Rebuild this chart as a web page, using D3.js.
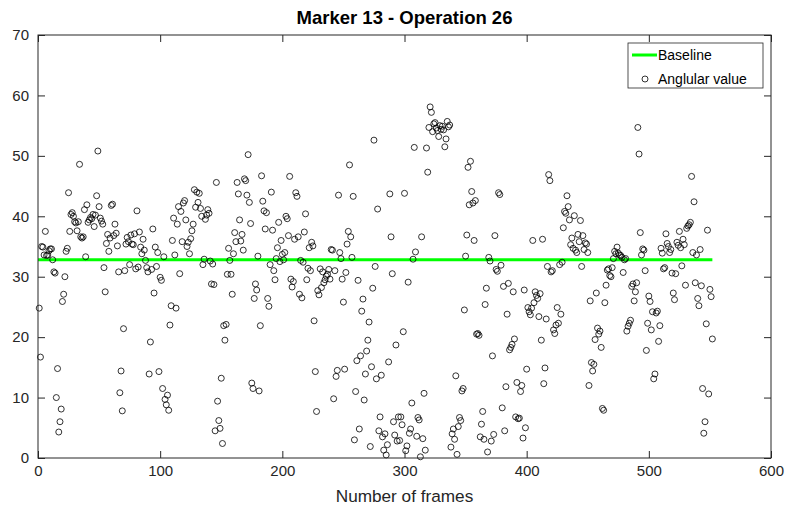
<!DOCTYPE html>
<html>
<head>
<meta charset="utf-8">
<script src="https://cdn.jsdelivr.net/npm/d3@7"></script>
<style>
  body { margin: 0; background: #fff; }
  svg { display: block; font-family: Arial, "Liberation Sans", Helvetica, sans-serif; }
</style>
</head>
<body>
<svg id="chart" width="789" height="512"></svg>
<script>
// Labels and ticks
const titleText = "Marker 13 - Operation 26";
const xLabelText = "Number of frames";
const xTickValues = [0, 100, 200, 300, 400, 500, 600];
const yTickValues = [0, 10, 20, 30, 40, 50, 60, 70];
const legendLabels = ["Baseline", "Anglular value"];

// Reference angle drawn as the green line
const baselineValue = 32.8;

// Angular value per frame (frames 1..552), in blocks of 100 frames
const anglesBlock1 = [
  24.8, 16.7, 35.0, 34.9, 33.6, 37.5, 33.5, 33.6, 34.3, 34.6,
  34.6, 32.8, 30.8, 30.6, 10.0, 14.8, 4.3, 6.0, 8.1, 25.9,
  27.1, 30.0, 34.2, 34.7, 43.9, 37.5, 40.3, 40.6, 40.0, 39.1,
  38.9, 37.6, 39.1, 48.6, 36.6, 36.4, 36.6, 41.1, 33.3, 41.9,
  39.0, 39.4, 39.8, 39.6, 40.3, 38.3, 40.2, 43.4, 50.8, 41.6,
  39.7, 39.2, 38.7, 31.5, 27.5, 35.5, 37.0, 34.2, 36.4, 41.8,
  42.0, 36.8, 38.7, 37.2, 35.1, 30.8, 10.8, 14.4, 7.8, 21.4,
  31.0, 35.4, 36.5, 35.8, 32.0, 36.9, 35.4, 35.3, 37.1, 31.3,
  40.9, 31.6, 37.4, 34.9, 33.8, 36.2, 34.4, 32.7, 31.5, 30.8,
  13.9, 19.2, 31.2, 37.9, 27.3, 34.9, 31.7, 34.0, 14.3, 29.9
];
const anglesBlock2 = [
  29.4, 11.5, 33.3, 9.7, 8.8, 10.4, 7.9, 22.0, 25.2, 36.0,
  39.7, 33.6, 24.8, 38.7, 41.6, 30.5, 40.8, 35.8, 42.2, 42.6,
  39.4, 35.0, 35.7, 33.8, 36.3, 37.6, 38.7, 44.4, 41.5, 44.0,
  42.3, 43.8, 41.3, 40.0, 32.0, 32.9, 39.5, 40.2, 41.1, 40.5,
  32.6, 28.8, 32.1, 28.7, 4.5, 45.6, 9.4, 6.2, 4.9, 13.2,
  2.4, 21.9, 19.5, 22.1, 30.4, 34.7, 32.7, 30.4, 27.1, 33.8,
  37.3, 35.8, 45.6, 43.7, 39.4, 35.9, 37.0, 34.4, 46.2, 45.9,
  43.5, 50.2, 42.3, 38.8, 12.4, 11.5, 26.4, 28.8, 27.8, 33.4,
  11.1, 21.9, 46.7, 42.5, 40.9, 37.9, 40.6, 26.4, 25.1, 32.0,
  44.0, 37.7, 31.0, 29.5, 33.0, 34.8, 39.0, 32.5, 36.0, 33.7
];
const anglesBlock3 = [
  32.8, 34.0, 40.0, 39.6, 36.8, 46.6, 29.6, 28.3, 29.2, 36.2,
  43.9, 43.3, 36.6, 27.1, 32.7, 26.5, 32.4, 37.4, 40.4, 29.5,
  31.4, 34.8, 31.0, 35.7, 35.1, 22.7, 14.3, 7.7, 27.7, 27.0,
  31.3, 28.2, 30.8, 29.0, 29.5, 30.1, 30.4, 31.2, 29.6, 34.5,
  34.4, 9.8, 31.0, 13.5, 14.5, 43.5, 34.0, 33.0, 29.6, 25.8,
  14.7, 30.7, 35.4, 37.5, 48.5, 36.6, 33.2, 43.3, 3.0, 11.0,
  16.1, 29.4, 4.8, 16.9, 24.3, 26.3, 9.6, 13.9, 17.7, 19.5,
  22.5, 1.9, 15.1, 28.1, 52.6, 31.7, 13.1, 41.2, 4.5, 6.8,
  13.7, 3.5, 1.3, 4.0, 0.5, 2.2, 15.9, 43.7, 36.6, 30.5,
  6.0, 3.8, 18.7, 2.8, 6.8, 2.9, 6.8, 5.5, 20.9, 43.8
];
const anglesBlock4 = [
  1.2, 2.0, 29.1, 4.1, 4.8, 9.1, 32.9, 51.4, 34.1, 3.6,
  6.7, 6.3, 0.2, 36.6, 3.2, 10.7, 1.3, 51.3, 47.3, 54.7,
  58.1, 57.2, 54.0, 55.3, 55.5, 54.6, 54.2, 53.2, 55.0, 54.4,
  54.9, 54.3, 51.5, 52.8, 55.7, 54.8, 55.1, 1.8, 4.0, 4.8,
  3.1, 13.6, 0.6, 5.2, 6.7, 6.2, 11.1, 11.5, 24.5, 33.4,
  36.9, 48.1, 41.9, 49.1, 44.1, 42.2, 36.0, 42.6, 20.5, 20.6,
  20.3, 3.5, 5.6, 7.7, 3.1, 25.4, 28.1, 1.0, 33.2, 32.6,
  2.8, 16.9, 3.9, 36.8, 31.2, 30.9, 43.9, 43.6, 31.9, 8.3,
  28.4, 4.5, 11.8, 23.8, 28.9, 17.9, 18.3, 18.8, 27.5, 19.7,
  6.8, 12.5, 6.5, 6.6, 11.0, 12.0, 3.3, 27.8, 5.0, 14.7
];
const anglesBlock5 = [
  24.9, 24.2, 23.7, 24.8, 36.0, 25.7, 27.5, 26.9, 26.4, 23.4,
  27.2, 19.5, 36.2, 12.3, 14.9, 23.0, 31.7, 46.9, 45.9, 30.8,
  31.0, 21.2, 20.6, 22.0, 24.9, 22.3, 32.0, 23.8, 32.4, 38.1,
  40.8, 40.5, 43.4, 41.6, 39.4, 35.3, 36.4, 34.7, 40.1, 34.4,
  34.0, 37.0, 35.8, 39.3, 31.7, 36.8, 34.5, 35.6, 35.4, 34.0,
  12.0, 26.0, 15.8, 14.4, 15.5, 19.6, 27.3, 21.5, 20.5, 21.0,
  18.3, 8.2, 7.9, 25.7, 28.6, 31.1, 31.3, 30.2, 30.0, 31.5,
  33.0, 34.2, 33.8, 34.9, 33.9, 33.6, 33.5, 33.2, 30.7, 32.8,
  33.0, 21.0, 21.8, 22.3, 22.8, 28.4, 28.8, 26.0, 27.5, 29.0,
  54.7, 50.3, 37.3, 33.6, 34.6, 34.4, 31.0, 17.8, 22.3, 26.8
];
const anglesBlock6 = [
  25.9, 21.2, 24.2, 13.1, 13.9, 24.0, 24.3, 19.3, 21.9, 34.7,
  33.9, 31.3, 31.5, 37.1, 35.5, 35.0, 34.0, 34.5, 30.6, 27.3,
  26.2, 30.5, 35.7, 35.2, 37.5, 34.8, 31.8, 36.2, 35.3, 28.6,
  38.0, 38.4, 38.6, 39.0, 46.6, 34.0, 42.4, 29.0, 33.6, 26.4,
  25.2, 34.5, 28.5, 11.5, 4.1, 6.0, 22.2, 37.7, 10.6, 27.9,
  26.7, 19.7
];

const angularValues = [].concat(anglesBlock1, anglesBlock2, anglesBlock3,
                                anglesBlock4, anglesBlock5, anglesBlock6);
const points = angularValues.map((v, i) => ({ frame: i + 1, value: v }));
const firstFrame = 1;
const lastFrame = angularValues.length;

// Layout
const width = 789, height = 512;
const margin = { top: 35, right: 18, bottom: 54, left: 38 };
const axisColor = "#262626";

const svg = d3.select("#chart");

const x = d3.scaleLinear().domain([0, 600]).range([margin.left, width - margin.right]);
const y = d3.scaleLinear().domain([0, 70]).range([height - margin.bottom, margin.top]);

// Plot background
svg.append("rect")
  .attr("x", x(0)).attr("y", y(70))
  .attr("width", x(600) - x(0)).attr("height", y(0) - y(70))
  .attr("fill", "#fff");

// Baseline
svg.append("line")
  .attr("x1", x(firstFrame - 1)).attr("x2", x(lastFrame))
  .attr("y1", y(baselineValue)).attr("y2", y(baselineValue))
  .attr("stroke", "#00ff00").attr("stroke-width", 3);

// Scatter of angular values
svg.append("g")
  .selectAll("circle")
  .data(points)
  .join("circle")
  .attr("cx", d => x(d.frame))
  .attr("cy", d => y(d.value))
  .attr("r", 3.0)
  .attr("fill", "none")
  .attr("stroke", "#000")
  .attr("stroke-width", 0.8);

// Axes with inward ticks on all four sides
function styleAxis(g) {
  g.select(".domain").remove();
  g.selectAll(".tick line").attr("stroke", axisColor);
  g.selectAll(".tick text")
    .attr("fill", axisColor)
    .style("font-size", "15px")
    .style("font-family", "Arial, 'Liberation Sans', Helvetica, sans-serif");
}

svg.append("g")
  .attr("transform", `translate(0,${y(0)})`)
  .call(d3.axisBottom(x).tickValues(xTickValues).tickFormat(d3.format("d"))
        .tickSizeInner(-7).tickSizeOuter(0).tickPadding(7))
  .call(styleAxis);

svg.append("g")
  .attr("transform", `translate(0,${y(70)})`)
  .call(d3.axisTop(x).tickValues(xTickValues).tickFormat("")
        .tickSizeInner(-7).tickSizeOuter(0))
  .call(styleAxis);

svg.append("g")
  .attr("transform", `translate(${x(0)},0)`)
  .call(d3.axisLeft(y).tickValues(yTickValues).tickFormat(d3.format("d"))
        .tickSizeInner(-7).tickSizeOuter(0).tickPadding(9))
  .call(styleAxis);

svg.append("g")
  .attr("transform", `translate(${x(600)},0)`)
  .call(d3.axisRight(y).tickValues(yTickValues).tickFormat("")
        .tickSizeInner(-7).tickSizeOuter(0))
  .call(styleAxis);

// Axes box
svg.append("rect")
  .attr("x", x(0)).attr("y", y(70))
  .attr("width", x(600) - x(0)).attr("height", y(0) - y(70))
  .attr("fill", "none").attr("stroke", axisColor).attr("stroke-width", 1);

// Title and axis label
svg.append("text")
  .attr("x", (x(0) + x(600)) / 2).attr("y", 24)
  .attr("text-anchor", "middle")
  .attr("font-weight", "bold").attr("font-size", 18.5)
  .attr("fill", "#000")
  .text(titleText);

svg.append("text")
  .attr("x", (x(0) + x(600)) / 2).attr("y", 502)
  .attr("text-anchor", "middle")
  .attr("font-size", 17.2).attr("fill", axisColor)
  .text(xLabelText);

// Legend
const legend = svg.append("g").attr("transform", "translate(628,43)");
legend.append("rect")
  .attr("width", 135).attr("height", 45)
  .attr("fill", "#fff").attr("stroke", axisColor).attr("stroke-width", 0.8);
legend.append("line")
  .attr("x1", 4).attr("x2", 29).attr("y1", 12).attr("y2", 12)
  .attr("stroke", "#00ff00").attr("stroke-width", 3);
legend.append("circle")
  .attr("cx", 17).attr("cy", 36).attr("r", 3.0)
  .attr("fill", "none").attr("stroke", "#000").attr("stroke-width", 0.8);
legend.selectAll("text.lab")
  .data(legendLabels)
  .join("text")
  .attr("class", "lab")
  .attr("x", 30).attr("y", (d, i) => 17 + i * 24)
  .attr("font-size", 14).attr("fill", "#000")
  .text(d => d);
</script>
</body>
</html>
